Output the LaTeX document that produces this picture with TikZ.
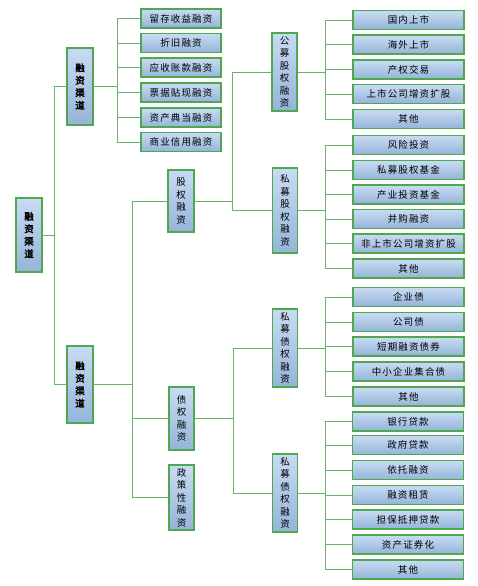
\documentclass[tikz,border=0pt]{standalone}
\usepackage{fontspec}
\newfontfamily\cjk{Noto Sans CJK SC}[LetterSpace=12]
\newfontfamily\cjkv{Noto Sans CJK SC}
\newfontfamily\cjkb{Noto Sans CJK SC}[FakeBold=2.5]
\definecolor{boxgreen}{RGB}{78,168,78}
\definecolor{linegreen}{RGB}{100,182,100}
\definecolor{boxtop}{RGB}{200,219,243}
\definecolor{boxbot}{RGB}{149,180,216}
\tikzset{
  basebox/.style={rectangle, draw=boxgreen, line width=1.1pt, top color=boxtop, bottom color=boxbot, inner sep=0pt, text=black},
  hbox/.style={basebox, minimum width=111pt, minimum height=19pt, font=\cjk\fontsize{9.5}{11}\selectfont},
  hboxs/.style={basebox, minimum width=80pt, minimum height=19pt, font=\cjk\fontsize{9.5}{11}\selectfont},
  vbox/.style={basebox, minimum width=25pt, align=center, font=\cjkv\fontsize{9.5}{12.5}\selectfont},
  vboxb/.style={basebox, minimum width=26pt, align=center, font=\cjkb\fontsize{9.5}{12.5}\selectfont},
  conn/.style={draw=linegreen, line width=0.9pt}
}
\begin{document}
\begin{tikzpicture}[x=1pt,y=-1pt]
\useasboundingbox (0,0) rectangle (477,586);
% root and level 1
\node[vboxb, minimum height=74pt] (root) at (29,235) {融\\资\\渠\\道};
\node[vboxb, minimum height=77pt] (la) at (80,86.5) {融\\资\\渠\\道};
\node[vboxb, minimum height=77pt] (lb) at (80,384.5) {融\\资\\渠\\道};
% level 1a children
\node[hboxs] (a1) at (181,18.5) {留存收益融资};
\node[hboxs] (a2) at (181,43) {折旧融资};
\node[hboxs] (a3) at (181,67.5) {应收账款融资};
\node[hboxs] (a4) at (181,92.5) {票据贴现融资};
\node[hboxs] (a5) at (181,117.5) {资产典当融资};
\node[hboxs] (a6) at (181,142) {商业信用融资};
% level 1b children
\node[vbox, minimum width=26pt, minimum height=62pt] (gq) at (181,201) {股\\权\\融\\资};
\node[vbox, minimum height=63pt] (zq) at (181.5,418.5) {债\\权\\融\\资};
\node[vbox, minimum height=65pt] (zc) at (181.5,497.5) {政\\策\\性\\融\\资};
% level 3
\node[vbox, minimum height=78pt] (gm) at (284.5,72) {公\\募\\股\\权\\融\\资};
\node[vbox, minimum height=85pt] (sm) at (285,210.5) {私\\募\\股\\权\\融\\资};
\node[vbox, minimum height=78pt] (zq1) at (285,348) {私\\募\\债\\权\\融\\资};
\node[vbox, minimum height=78pt] (zq2) at (285,493) {私\\募\\债\\权\\融\\资};
% leaves gm
\node[hbox] (g1) at (408.5,20) {国内上市};
\node[hbox] (g2) at (408.5,44.5) {海外上市};
\node[hbox] (g3) at (408.5,69.5) {产权交易};
\node[hbox] (g4) at (408.5,94) {上市公司增资扩股};
\node[hbox] (g5) at (408.5,119) {其他};
% leaves sm
\node[hbox] (s1) at (408.5,145) {风险投资};
\node[hbox] (s2) at (408.5,170) {私募股权基金};
\node[hbox] (s3) at (408.5,194.5) {产业投资基金};
\node[hbox] (s4) at (408.5,219) {并购融资};
\node[hbox] (s5) at (408.5,243.5) {非上市公司增资扩股};
\node[hbox] (s6) at (408.5,268.5) {其他};
% leaves zq1
\node[hbox] (d1) at (408.5,297) {企业债};
\node[hbox] (d2) at (408.5,322) {公司债};
\node[hbox] (d3) at (408.5,346.5) {短期融资债券};
\node[hbox] (d4) at (408.5,371.5) {中小企业集合债};
\node[hbox] (d5) at (408.5,396.5) {其他};
% leaves zq2
\node[hbox] (e1) at (408,421.5) {银行贷款};
\node[hbox] (e2) at (408,445) {政府贷款};
\node[hbox] (e3) at (408,470) {依托融资};
\node[hbox] (e4) at (408,495) {融资租赁};
\node[hbox] (e5) at (408,519.5) {担保抵押贷款};
\node[hbox] (e6) at (408,544.5) {资产证券化};
\node[hbox] (e7) at (408,569.5) {其他};
% bus coordinates
\coordinate (b0) at (54,0);
\coordinate (b1) at (117,0);
\coordinate (b2) at (132,0);
\coordinate (b3) at (232,0);
\coordinate (b4) at (233,0);
\coordinate (b5) at (325,0);
% connectors root
\draw[conn] (root.east) -- (b0 |- root.east);
\draw[conn] (b0 |- la.west) -- (b0 |- lb.west);
\foreach \c in {la,lb} \draw[conn] (b0 |- \c.west) -- (\c.west);
% la
\draw[conn] (la.east) -- (b1 |- la.east);
\draw[conn] (b1 |- a1.west) -- (b1 |- a6.west);
\foreach \c in {a1,a2,a3,a4,a5,a6} \draw[conn] (b1 |- \c.west) -- (\c.west);
% lb
\draw[conn] (lb.east) -- (b2 |- lb.east);
\draw[conn] (b2 |- gq.west) -- (b2 |- zc.west);
\foreach \c in {gq,zq,zc} \draw[conn] (b2 |- \c.west) -- (\c.west);
% gq
\draw[conn] (gq.east) -- (b3 |- gq.east);
\draw[conn] (b3 |- gm.west) -- (b3 |- sm.west);
\foreach \c in {gm,sm} \draw[conn] (b3 |- \c.west) -- (\c.west);
% zq
\draw[conn] (zq.east) -- (b4 |- zq.east);
\draw[conn] (b4 |- zq1.west) -- (b4 |- zq2.west);
\foreach \c in {zq1,zq2} \draw[conn] (b4 |- \c.west) -- (\c.west);
% gm
\draw[conn] (gm.east) -- (b5 |- gm.east);
\draw[conn] (b5 |- g1.west) -- (b5 |- g5.west);
\foreach \c in {g1,g2,g3,g4,g5} \draw[conn] (b5 |- \c.west) -- (\c.west);
% sm
\draw[conn] (sm.east) -- (b5 |- sm.east);
\draw[conn] (b5 |- s1.west) -- (b5 |- s6.west);
\foreach \c in {s1,s2,s3,s4,s5,s6} \draw[conn] (b5 |- \c.west) -- (\c.west);
% zq1
\draw[conn] (zq1.east) -- (b5 |- zq1.east);
\draw[conn] (b5 |- d1.west) -- (b5 |- d5.west);
\foreach \c in {d1,d2,d3,d4,d5} \draw[conn] (b5 |- \c.west) -- (\c.west);
% zq2
\draw[conn] (zq2.east) -- (b5 |- zq2.east);
\draw[conn] (b5 |- e1.west) -- (b5 |- e7.west);
\foreach \c in {e1,e2,e3,e4,e5,e6,e7} \draw[conn] (b5 |- \c.west) -- (\c.west);
\end{tikzpicture}
\end{document}
